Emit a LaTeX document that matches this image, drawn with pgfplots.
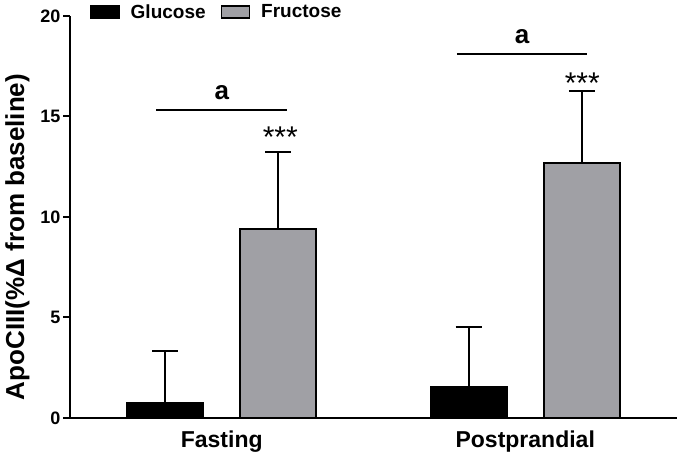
\documentclass[border=0pt]{standalone}
\usepackage{pgfplots}
\pgfplotsset{compat=1.18}
\usepackage{fontspec}
\setmainfont{Liberation Sans}
\definecolor{barGray}{RGB}{160,160,165}
\pgfplotsset{boxlegend/.style={legend image code/.code={\draw[##1] (0pt,-6pt) rectangle (28pt,6pt);}}}

\begin{document}
\begin{tikzpicture}
	\useasboundingbox (0,0) rectangle (681pt,460pt);
	\begin{axis}[
	at={(70pt,42pt)}, anchor=south west,
	scale only axis,
	width=607pt, height=402pt,
	xmin=-0.5, xmax=1.5,
	ymin=0, ymax=20,
	clip=false,
	axis lines=left,
	axis line style={line width=2pt,-},
	ytick={0,5,10,15,20},
	yticklabel={\pgfmathprintnumber[assume math mode=true]{\tick}},
	xtick={0,1},
	xticklabels={Fasting,Postprandial},
	major x tick style={draw=none},
	major y tick style={line width=2pt,black},
	tick align=outside,
	major tick length=7pt,
	yticklabel style={font=\fontsize{18}{20}\selectfont\bfseries\boldmath, xshift=1pt},
	xticklabel style={font=\fontsize{23}{26}\selectfont\bfseries, yshift=-2pt},
	ylabel={ApoCIII(\%Δ from baseline)},
	ylabel style={font=\fontsize{26}{30}\selectfont\bfseries, at={(axis description cs:0,0.45)}, anchor=south, yshift=37pt},
	error bars/y dir=plus,
	error bars/y explicit,
	error bars/error bar style={line width=2pt,black},
	error bars/error mark options={rotate=90,mark size=13pt,line width=2pt,black},
	legend style={at={(rel axis cs:0,1)}, anchor=west, xshift=20pt, yshift=4pt,
		draw=none, fill=none, inner sep=0pt, legend columns=2,
		font=\fontsize{19}{22}\selectfont\bfseries,
		cells={anchor=west},
		/tikz/every odd column/.append style={column sep=9pt},
		/tikz/every even column/.append style={column sep=13pt}},
	]
	\addplot[ybar, bar width=76pt, bar shift=0pt, fill=black, draw=black, line width=2pt, forget plot]
		coordinates {(-0.1868,0.75) +- (0,2.6) (0.8132,1.55) +- (0,3.0)};
	\addplot[ybar, bar width=76pt, bar shift=0pt, fill=barGray, draw=black, line width=2pt, forget plot]
		coordinates {(0.1868,9.4) +- (0,3.85) (1.1868,12.7) +- (0,3.55)};

	\addlegendimage{fill=black, draw=black, line width=1.5pt, boxlegend}
	\addlegendentry{Glucose}
	\addlegendimage{fill=barGray, draw=black, line width=1.5pt, boxlegend}
	\addlegendentry{Fructose}

	% significance marks
	\draw[line width=2pt] (axis cs:-0.215,15.32) -- (axis cs:0.215,15.32);
	\node[font=\fontsize{26}{30}\selectfont\bfseries] at (axis cs:0,16.2) {a};
	\draw[line width=2pt] (axis cs:0.775,18.1) -- (axis cs:1.205,18.1);
	\node[font=\fontsize{26}{30}\selectfont\bfseries] at (axis cs:0.99,18.95) {a};
	\node[font=\fontsize{30}{32}\selectfont] at (axis cs:0.193,13.95) {***};
	\node[font=\fontsize{30}{32}\selectfont] at (axis cs:1.188,16.65) {***};
	\end{axis}
\end{tikzpicture}
\end{document}
